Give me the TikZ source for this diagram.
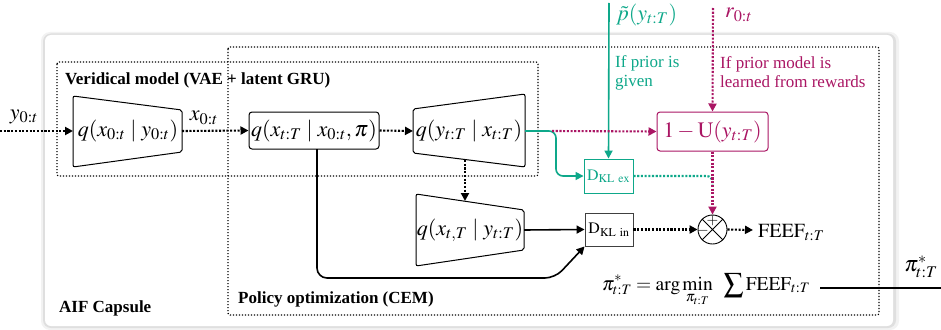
\documentclass[tikz,border=0pt]{standalone}
\usepackage{mathptmx}
\usepackage{fontspec}
\setmainfont{Liberation Serif}
\usetikzlibrary{arrows.meta,calc}
\definecolor{teal2}{RGB}{14,168,138}
\definecolor{mag}{RGB}{170,22,100}
\tikzset{
  lbl/.style={font=\fontsize{17}{19}\selectfont, inner sep=0},
  blbl/.style={font=\bfseries\fontsize{17}{20}\selectfont, inner sep=0, anchor=west},
  bigm/.style={font=\fontsize{22}{26}\selectfont, inner sep=0},
  dotbox/.style={dash pattern=on 1.2pt off 1.8pt, line width=1.2pt, rounded corners=2pt},
  trap/.style={line width=1pt, rounded corners=2pt},
  arr/.style={line width=1.6pt, -{Triangle[length=8pt,width=8pt]}},
  dots/.style={line width=2.1pt, dash pattern=on 2.1pt off 1.6pt},
  darr/.style={arr, dots},
}
\begin{document}
\begin{tikzpicture}[x=1pt,y=-1pt]
\useasboundingbox (0,0) rectangle (941,329);
% outer capsule
\fill[gray!10, rounded corners=9pt] (41,32) rectangle (899,330);
\fill[gray!25, rounded corners=8pt] (43,33.5) rectangle (896,328);
\fill[white, rounded corners=6pt] (45,35) rectangle (893,326);
% dotted group boxes
\draw[dotbox] (228,47) rectangle (879,315);
\draw[dotbox] (57,62) rectangle (538,176);
\node[blbl] (vlab) at (65,80) {Veridical model (VAE + latent GRU)};
\node[blbl] (aif) at (59,308) {AIF Capsule};
\node[blbl] (pol) at (238,299) {Policy optimization (CEM)};

% encoder
\draw[trap] (73,96) -- (182,110) -- (182,152) -- (73,167) -- cycle;
\node[bigm] (enc) at (128,131) {$q(x_{0:t}\mid y_{0:t})$};
\coordinate (encL) at (73,131);
\coordinate (encR) at (182,131);
\coordinate (yin) at (0,131);
\draw[darr] (yin) -- (encL);
\node[bigm] (ylab) at (24,117) {$y_{0:t}$};

% prior transition
\node[bigm, draw, line width=1pt, rounded corners=3pt, minimum width=130pt, minimum height=37pt] (prior) at (314,130.5) {$q(x_{t:T}\mid x_{0:t},\pi)$};
\draw[darr] (encR) -- (prior.west);
\node[bigm] (xlab) at (204,118) {$x_{0:t}$};

% decoder
\draw[trap] (413,109) -- (525,94) -- (525,167) -- (413,153) -- cycle;
\node[bigm] (dec) at (469,131) {$q(y_{t:T}\mid x_{t:T})$};
\coordinate (decL) at (413,131);
\coordinate (decR) at (525,131);
\coordinate (decB) at (465,160);
\draw[darr] (prior.east) -- (decL);

% posterior encoder
\draw[trap] (416,194) -- (524,210) -- (524,250) -- (416,266) -- cycle;
\node[bigm] (post) at (470,230) {$q(x_{t,T}\mid y_{t:T})$};
\coordinate (postT) at (465,201);
\coordinate (postR) at (524,230);
\draw[darr] (decB) -- (postT);

% KL boxes
\node[draw=black!75, line width=0.9pt, minimum width=48pt, minimum height=33pt, inner sep=0, font=\fontsize{16}{18}\selectfont] (dklin) at (609,229.5) {$\mathrm{D}_{\mathrm{KL\ in}}$};
\node[draw=teal2, text=teal2, line width=0.9pt, minimum width=49pt, minimum height=34pt, inner sep=0, font=\fontsize{16}{18}\selectfont] (dklex) at (608.5,176) {$\mathrm{D}_{\mathrm{KL\ ex}}$};

% utility
\node[bigm, draw=mag, text=mag, line width=1pt, rounded corners=3pt, minimum width=111pt, minimum height=39pt] (util) at (712.5,131.5) {$1-\mathrm{U}(y_{t:T})$};

% sum junction
\node[circle, draw, line width=0.9pt, minimum size=29pt, inner sep=0] (sum) at (712.5,229.5) {};
\draw[line width=0.9pt] (sum.north west) -- (sum.south east) (sum.north east) -- (sum.south west);
\node[font=\fontsize{15}{15}\selectfont, inner sep=0] (plus) at (712.5,221) {$+$};
\node[font=\fontsize{15}{15}\selectfont, inner sep=0] (minus) at (703,231) {$-$};

\node[font=\fontsize{20}{24}\selectfont, inner sep=0, anchor=west] (feef) at (758,232) {$\mathrm{FEEF}_{t:T}$};
\coordinate (feefL) at (753,230);

% top inputs
\coordinate (ptop) at (609,3);
\coordinate (rtop) at (713,8);
\node[bigm, text=teal2, anchor=west] (plab) at (616,15) {$\tilde{p}(y_{t:T})$};
\node[bigm, text=mag, anchor=west] (rlab) at (725,15) {$r_{0:t}$};
\node[lbl, text=teal2, anchor=west, align=left] (ifprior) at (615,72.5) {If prior is\\given};
\node[lbl, text=mag, anchor=west, align=left] (iflearn) at (720,72.5) {If prior model is\\learned from rewards};

% connectors
\coordinate (split) at (552,131);
\coordinate (merge) at (712.5,187);
\coordinate (priorB) at (317,149);
\coordinate (bend) at (555,278);
\draw[arr, teal2] (ptop) -- (dklex.north);
\draw[arr, teal2, rounded corners=7pt] (decR) -- (556,131) -- (556,176) -- (dklex.west);
\draw[dots, teal2, rounded corners=6pt] (dklex.east) -| (merge);
\draw[darr, mag] (split) -- (util.west);
\draw[darr, mag] (rtop) -- (util.north);
\draw[darr, mag] (util.south) -- (sum.north);
\draw[arr] (postR) -- (dklin.west);
\draw[arr, rounded corners=10pt] (priorB) -- (317,278) -- (bend) -- (dklin.south west);
\draw[darr] (dklin.east) -- (sum.west);
\draw[darr] (sum.east) -- (feefL);

% optimisation
\node[font=\fontsize{19.5}{24}\selectfont, inner sep=0, anchor=base west] (opt) at (602,290) {$\displaystyle \pi^*_{t:T} = \arg\min_{\pi_{t:T}}\;\; \sum \mathrm{FEEF}_{t:T}$};
\coordinate (lineL) at (820,288);
\coordinate (outR) at (941,288);
\draw[line width=1.6pt] (lineL) -- (outR);
\node[bigm] (pilab) at (921,267) {$\pi^*_{t:T}$};
\end{tikzpicture}
\end{document}
